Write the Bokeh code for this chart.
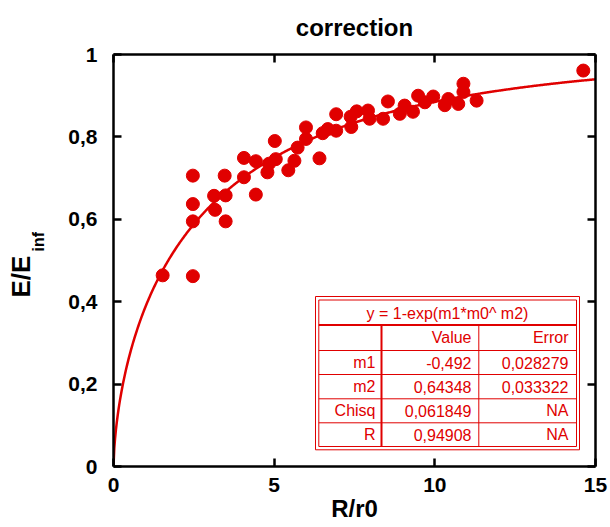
import numpy as np
from bokeh.plotting import figure
from bokeh.models import Range1d, LinearAxis, FixedTicker, Title, CustomJSTickFormatter
from bokeh.core.properties import value
from bokeh.embed import file_html
from bokeh.resources import INLINE

# ---------------- data ----------------
r_r0 = [1.53, 2.47, 2.47, 2.47, 2.47, 3.13, 3.16, 3.46, 3.49, 3.49,
        4.06, 4.06, 4.43, 4.43, 4.79, 4.84, 5.02, 5.05, 5.44, 5.63,
        5.73, 5.99, 5.99, 6.41, 6.51, 6.67, 6.93, 6.93, 7.38, 7.40,
        7.57, 7.92, 7.97, 8.39, 8.54, 8.91, 9.06, 9.32, 9.48, 9.69,
        9.95, 10.31, 10.42, 10.73, 10.89, 10.89, 11.30, 14.62]
e_einf = [0.464, 0.462, 0.706, 0.637, 0.595, 0.657, 0.623, 0.706, 0.658, 0.595,
          0.749, 0.702, 0.741, 0.660, 0.714, 0.735, 0.790, 0.746, 0.719, 0.742,
          0.774, 0.823, 0.795, 0.748, 0.809, 0.819, 0.855, 0.815, 0.849, 0.824,
          0.862, 0.864, 0.844, 0.844, 0.886, 0.856, 0.876, 0.861, 0.900, 0.884,
          0.898, 0.877, 0.892, 0.880, 0.929, 0.909, 0.888, 0.961]

fit_equation = "y = 1-exp(m1*m0^ m2)"
fit_header = ["", "Value", "Error"]
fit_names = ["m1", "m2", "Chisq", "R"]
fit_values = ["-0,492", "0,64348", "0,061849", "0,94908"]
fit_errors = ["0,028279", "0,033322", "NA", "NA"]
m1 = -0.492
m2 = 0.64348

x_ticks = [0, 5, 10, 15]
x_tick_labels = ["0", "5", "10", "15"]
y_ticks = [0, 0.2, 0.4, 0.6, 0.8, 1.0]
y_tick_labels = ["0", "0,2", "0,4", "0,6", "0,8", "1"]

# ---------------- styling ----------------
RED = "#e00000"
FONT = "Liberation Sans"
FW, FH = 482, 412
X0, X1, Y0, Y1 = 0, 15, 0, 1


def dx(px):
    return X0 + px * (X1 - X0) / FW


def dy(py):
    return Y0 + py * (Y1 - Y0) / FH


p = figure(frame_width=FW, frame_height=FH,
           x_range=Range1d(X0, X1), y_range=Range1d(Y0, Y1),
           output_backend="svg", toolbar_location=None,
           min_border_left=113, min_border_right=15,
           min_border_top=54, min_border_bottom=61,
           title="correction")
p.grid.visible = False
p.outline_line_color = None
p.background_fill_color = "white"
p.border_fill_color = "white"

p.title.text_font = FONT
p.title.text_font_size = "24px"
p.title.text_font_style = "bold"
p.title.align = "center"
p.title.vertical_align = "top"
p.title.text_color = "black"
p.title.standoff = 24


def style_axis(ax, ticks, overrides=None, blank=False):
    ax.ticker = FixedTicker(ticks=ticks)
    ax.axis_line_width = 2.5
    ax.axis_line_color = "black"
    ax.major_tick_in = 8
    ax.major_tick_out = 0
    ax.major_tick_line_width = 2.5
    ax.major_tick_line_color = "black"
    ax.minor_tick_line_color = None
    ax.major_label_text_font = FONT
    ax.major_label_text_font_style = "bold"
    ax.major_label_text_font_size = "21px"
    ax.major_label_text_color = "black"
    if blank:
        ax.formatter = CustomJSTickFormatter(code="return ''")
        ax.major_label_standoff = 0
    else:
        ax.major_label_overrides = overrides


xax = p.xaxis[0]
style_axis(xax, x_ticks, dict(zip(x_ticks, x_tick_labels)))
xax.major_label_standoff = 11
xax.axis_label = "R/r0"
xax.axis_label_text_font = FONT
xax.axis_label_text_font_style = "bold"
xax.axis_label_text_font_size = "24px"
xax.axis_label_text_color = "black"
xax.axis_label_standoff = 0

yax = p.yaxis[0]
style_axis(yax, y_ticks, dict(zip(y_ticks, y_tick_labels)))
yax.major_label_standoff = 16

top_ax = LinearAxis()
style_axis(top_ax, x_ticks, blank=True)
p.add_layout(top_ax, "above")
right_ax = LinearAxis()
style_axis(right_ax, y_ticks, blank=True)
p.add_layout(right_ax, "right")

# y-axis label "E/E" with subscript "inf" (titles on the left side);
# the trailing empty line keeps the subscript clear of the tick labels
sub_title = Title(text="inf\n", align="left", offset=215, standoff=3,
                  text_font=FONT, text_font_style="bold", text_font_size="16px",
                  text_line_height=1.0, text_color="black")
p.add_layout(sub_title, "left")
main_title = Title(text="E/E", align="left", offset=169, standoff=-19,
                   text_font=FONT, text_font_style="bold", text_font_size="26px",
                   text_line_height=1.0, text_color="black")
p.add_layout(main_title, "left")

# fit curve from the table's parameters
xs = np.linspace(0, 15, 600)
ys = 1 - np.exp(m1 * xs ** m2)
p.line(xs, ys, line_color=RED, line_width=2.5)

# data points
p.scatter(r_r0, e_einf, size=13, fill_color=RED, line_color=RED)

# ---------------- fit table ----------------
p.quad(left=[dx(202)], right=[dx(466)], top=[dy(170)], bottom=[dy(16.7)],
       fill_color="white", line_color=RED, line_width=1)
p.quad(left=[dx(205.3)], right=[dx(463)], top=[dy(166.5)], bottom=[dy(20)],
       fill_color=None, line_color=RED, line_width=1)
row_lines = [141.5, 116, 92, 67.7, 43.7]
row_w = [2, 1, 1, 1, 1]
p.segment(x0=[dx(205.3)] * 5, x1=[dx(463)] * 5,
          y0=[dy(v) for v in row_lines], y1=[dy(v) for v in row_lines],
          line_color=RED, line_width=row_w)
col_lines = [268, 365.3]
col_w = [2, 1]
p.segment(x0=[dx(v) for v in col_lines], x1=[dx(v) for v in col_lines],
          y0=[dy(141.5)] * 2, y1=[dy(20)] * 2,
          line_color=RED, line_width=col_w)

p.text(x=[dx(334)], y=[dy(153.5)], text=[fit_equation],
       text_font=value(FONT), text_font_size="16px", text_color=RED,
       text_align="center", text_baseline="middle")

row_centres = [128.75, 104, 80, 55.7, 31.9]
col_right = [262, 358, 455]
tx, ty, tt = [], [], []
table_rows = [fit_header] + [[n, v, e] for n, v, e in zip(fit_names, fit_values, fit_errors)]
for rc, row in zip(row_centres, table_rows):
    for cr, cell in zip(col_right, row):
        if cell:
            tx.append(dx(cr))
            ty.append(dy(rc))
            tt.append(cell)
p.text(x=tx, y=ty, text=tt, text_font=value(FONT), text_font_size="16px",
       text_color=RED, text_align="right", text_baseline="middle")

open("out.html", "w").write(file_html(p, INLINE))
